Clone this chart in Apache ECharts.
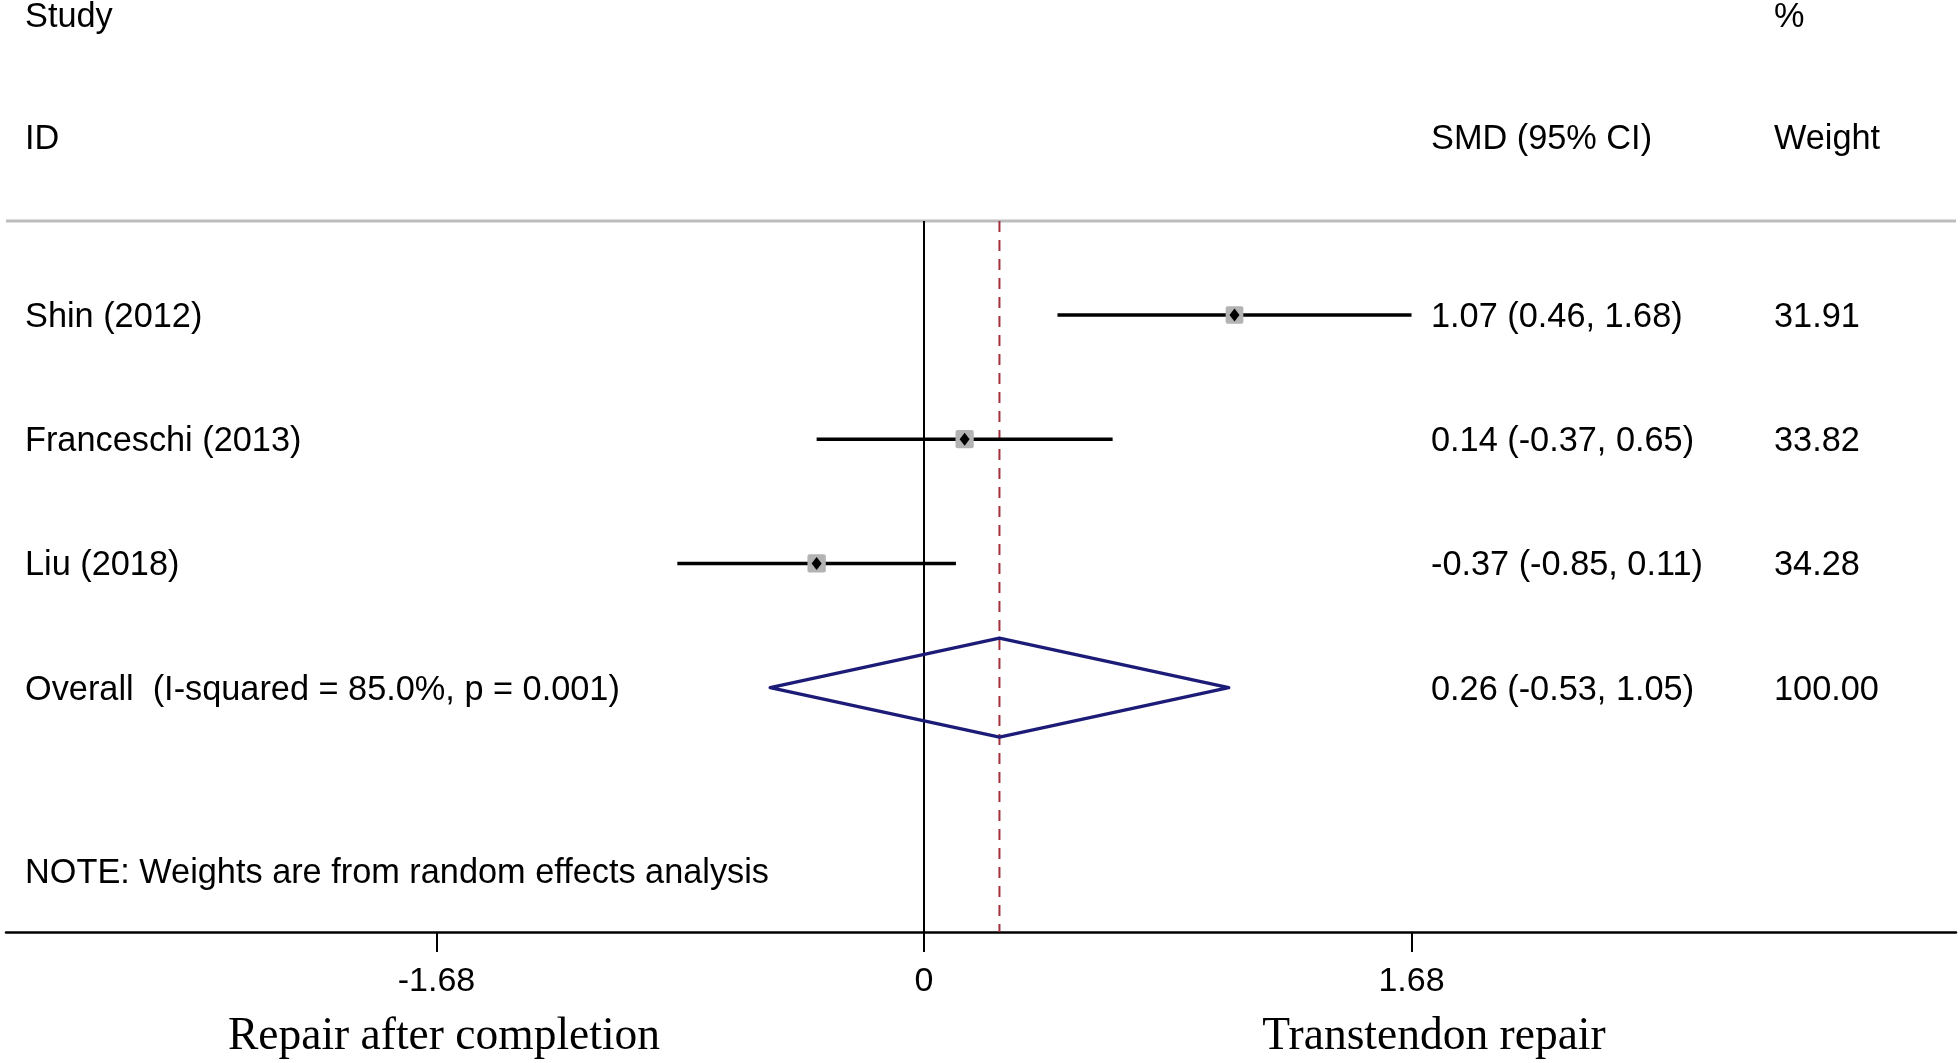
<!DOCTYPE html>
<html>
<head>
<meta charset="utf-8">
<script src="https://cdn.jsdelivr.net/npm/echarts@6/dist/echarts.min.js"></script>
<style>
html,body{margin:0;padding:0;background:#fff;}
#chart{width:1960px;height:1063px;}
</style>
</head>
<body>
<div id="chart"></div>
<script>
// ---- Data ----
const studies = ['Shin (2012)', 'Franceschi (2013)', 'Liu (2018)'];
const smd = [1.07, 0.14, -0.37];
const ciLow = [0.46, -0.37, -0.85];
const ciHigh = [1.68, 0.65, 0.11];
const weights = [31.91, 33.82, 34.28];
const overallLabel = 'Overall  (I-squared = 85.0%, p = 0.001)';
const overallEst = [0.26];
const overallLow = [-0.53];
const overallHigh = [1.05];
const overallWeight = [100.00];
const tickValues = [-1.68, 0, 1.68];
const tickLabels = ['-1.68', '0', '1.68'];
const headerLeft = ['Study', 'ID'];
const headerMid = 'SMD (95% CI)';
const headerRight = ['%', 'Weight'];
const noteText = 'NOTE: Weights are from random effects analysis';
const leftAxisTitle = 'Repair after completion';
const rightAxisTitle = 'Transtendon repair';

// ---- Layout ----
const W = 1960, H = 1063;
const gridL = 6, gridR = 1956, gridTop = 0, axisY = 932;
const zeroPx = 924, pxPerUnit = 290.2;
const rowPx = 124.2, firstRowPx = 315;
const xMin = (gridL - zeroPx) / pxPerUnit;
const xMax = (gridR - zeroPx) / pxPerUnit;
const yMin = 1 - (firstRowPx - gridTop) / rowPx;
const yMax = 1 + (axisY - firstRowPx) / rowPx;
const yHeaderLine = 1 - (firstRowPx - 221) / rowPx;
const colLabelX = 25, colSmdX = 1431, colWX = 1774;
const textDy = 2.5;
const sans = "'Liberation Sans', Arial, Helvetica, sans-serif";
const serif = "'Liberation Serif', 'Times New Roman', serif";
const FS = 34.3;

const fmt = v => v.toFixed(2);

const studyData = studies.map((s, i) => [smd[i], i + 1, ciLow[i], ciHigh[i], weights[i], i]);
const overallData = [[overallEst[0], studies.length + 1, overallLow[0], overallHigh[0], overallWeight[0]]];

function textEl(x, y, str) {
  return {type: 'text', x: x, y: y + textDy, style: {text: str, fill: '#000', font: FS + 'px ' + sans, textAlign: 'left', textVerticalAlign: 'middle'}};
}

function renderStudy(params, api) {
  const idx = api.value(5);
  const y = api.coord([0, api.value(1)])[1];
  const xe = api.coord([api.value(0), 0])[0];
  const xl = api.coord([api.value(2), 0])[0];
  const xh = api.coord([api.value(3), 0])[0];
  const sz = 17.7 * Math.sqrt(api.value(4) / weights[0]);
  return {
    type: 'group',
    children: [
      {type: 'line', shape: {x1: xl, y1: y, x2: xh, y2: y}, style: {stroke: '#000', lineWidth: 3.5}},
      {type: 'rect', shape: {x: xe - sz / 2, y: y - sz / 2, width: sz, height: sz, r: 2}, style: {fill: '#b3b3b3'}},
      {type: 'polygon', shape: {points: [[xe, y - 6.5], [xe + 5, y], [xe, y + 6.5], [xe - 5, y]]}, style: {fill: '#000'}},
      textEl(colLabelX, y, studies[idx]),
      textEl(colSmdX, y, fmt(api.value(0)) + ' (' + fmt(api.value(2)) + ', ' + fmt(api.value(3)) + ')'),
      textEl(colWX, y, fmt(api.value(4)))
    ]
  };
}

function renderOverall(params, api) {
  const y = api.coord([0, api.value(1)])[1];
  const xe = api.coord([api.value(0), 0])[0];
  const xl = api.coord([api.value(2), 0])[0];
  const xh = api.coord([api.value(3), 0])[0];
  const hh = 49.5;
  return {
    type: 'group',
    children: [
      {type: 'polygon', shape: {points: [[xl, y], [xe, y - hh], [xh, y], [xe, y + hh]]},
       style: {fill: 'none', stroke: '#1c1c78', lineWidth: 3.5, lineJoin: 'round'}},
      textEl(colLabelX, y, overallLabel),
      textEl(colSmdX, y, fmt(api.value(0)) + ' (' + fmt(api.value(2)) + ', ' + fmt(api.value(3)) + ')'),
      textEl(colWX, y, fmt(api.value(4)))
    ]
  };
}

function hdr(x, y, str) {
  return {type: 'text', x: x, y: y + textDy, style: {text: str, font: FS + 'px ' + sans, fill: '#000', textVerticalAlign: 'middle'}};
}

const chart = echarts.init(document.getElementById('chart'), null, {renderer: 'canvas'});
chart.setOption({
  backgroundColor: '#fff',
  animation: false,
  grid: {left: gridL, right: W - gridR, top: gridTop, bottom: H - axisY, containLabel: false},
  xAxis: {
    type: 'value', min: xMin, max: xMax,
    splitLine: {show: false},
    axisLine: {show: true, onZero: false, lineStyle: {color: '#000', width: 2.5}},
    axisTick: {show: true, customValues: tickValues, length: 20, lineStyle: {color: '#000', width: 2}},
    axisLabel: {
      show: true, customValues: tickValues, margin: 33,
      color: '#000', fontSize: 34, fontFamily: sans,
      formatter: v => {
        let best = 0;
        tickValues.forEach((t, i) => { if (Math.abs(t - v) < Math.abs(tickValues[best] - v)) best = i; });
        return tickLabels[best];
      }
    }
  },
  yAxis: {
    type: 'value', inverse: true, min: yMin, max: yMax, show: false
  },
  graphic: [
    hdr(colLabelX, 15, headerLeft[0]),
    hdr(colLabelX, 137.5, headerLeft[1]),
    hdr(colSmdX, 137.5, headerMid),
    hdr(colWX, 15, headerRight[0]),
    hdr(colWX, 137.5, headerRight[1]),
    hdr(colLabelX, 871, noteText),
    {type: 'text', x: 444, y: 1037, style: {text: leftAxisTitle, font: '45.5px ' + serif, fill: '#000', textAlign: 'center', textVerticalAlign: 'middle'}},
    {type: 'text', x: 1434, y: 1037, style: {text: rightAxisTitle, font: '45.5px ' + serif, fill: '#000', textAlign: 'center', textVerticalAlign: 'middle'}}
  ],
  series: [
    {type: 'line', data: [[xMin, yHeaderLine], [xMax, yHeaderLine]], symbol: 'none', silent: true,
     lineStyle: {color: '#bdbdbd', width: 3}, z: 1},
    {type: 'line', data: [[0, yHeaderLine], [0, yMax]], symbol: 'none', silent: true,
     lineStyle: {color: '#000', width: 2}, z: 2},
    {type: 'line', data: [[overallEst[0], yHeaderLine], [overallEst[0], yMax]], symbol: 'none', silent: true,
     lineStyle: {color: '#a3303a', width: 2, type: [11, 8]}, z: 3},
    {type: 'custom', renderItem: renderStudy, data: studyData, encode: {x: [0, 2, 3], y: 1}, z: 4, clip: false},
    {type: 'custom', renderItem: renderOverall, data: overallData, encode: {x: [0, 2, 3], y: 1}, z: 4, clip: false}
  ]
});
</script>
</body>
</html>
